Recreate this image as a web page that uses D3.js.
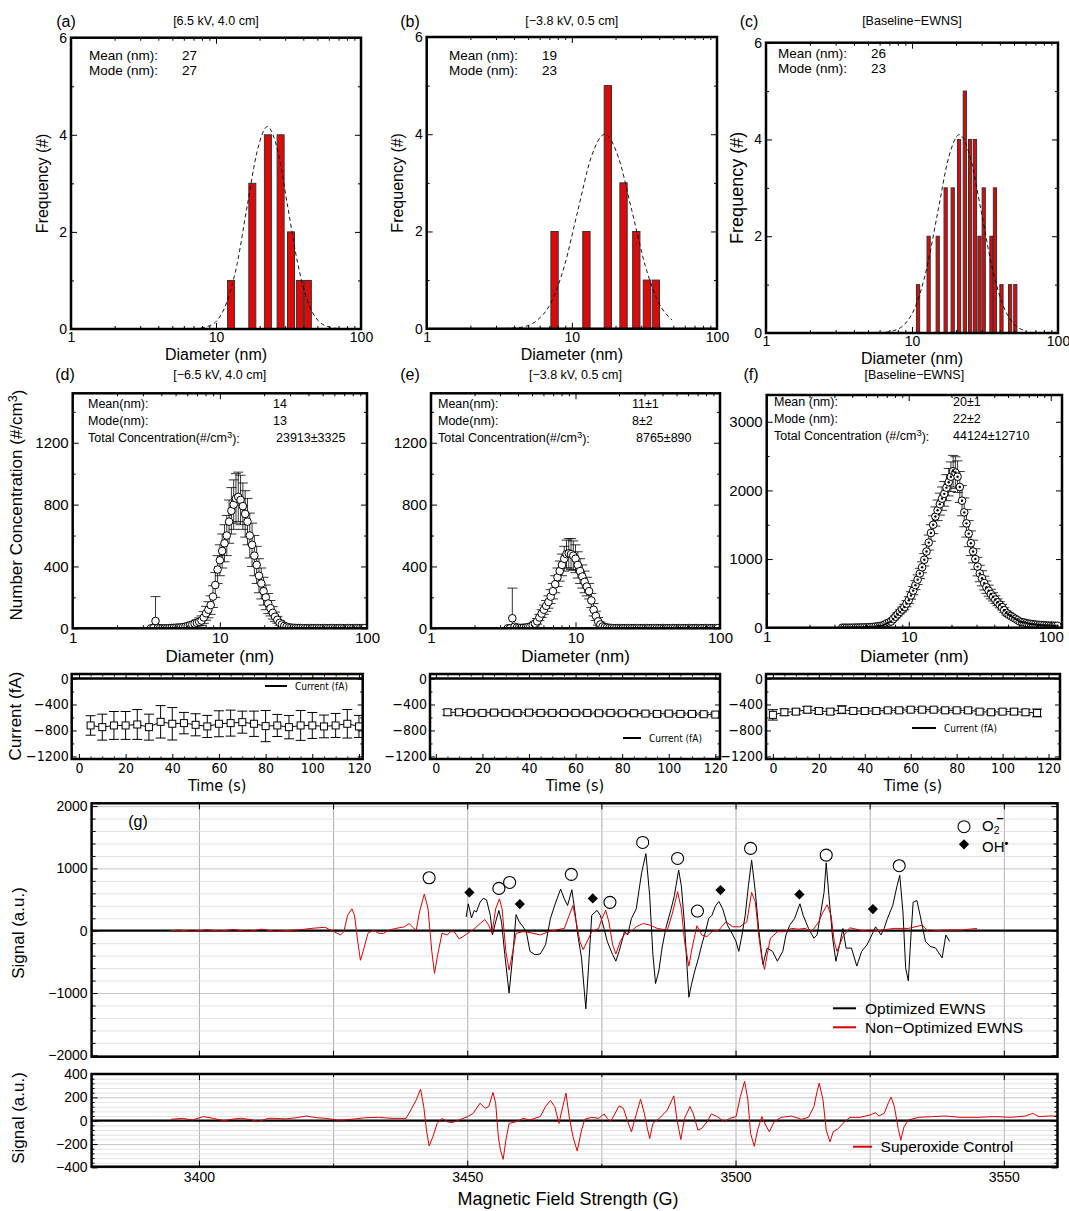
<!DOCTYPE html>
<html>
<head>
<meta charset="utf-8">
<script src="https://cdn.jsdelivr.net/npm/d3@7/dist/d3.min.js"></script>
<style>
  body { margin: 0; background: #fff; }
  svg { font-family: "Liberation Sans", Arial, sans-serif; }
</style>
</head>
<body>
<svg id="fig" width="1069" height="1211"></svg>
<script>
// ---- histograms (TEM counts) ----
const histA_d = [12.7, 17.8, 22.8, 27.9, 32.9, 37.9, 43.0];
const histA_n = [1, 3, 4, 4, 2, 1, 1];
const histB_d = [7.6, 12.6, 17.7, 22.7, 27.8, 32.9, 37.9];
const histB_n = [2, 2, 5, 3, 2, 1, 1];
const histC_d = [11, 13, 15, 17, 19, 21, 23, 25, 27, 29, 31, 35, 37, 41, 47, 51];
const histC_n = [1, 2, 2, 3, 3, 4, 5, 4, 4, 2, 3, 2, 3, 1, 1, 1];

// dashed log-normal fit curves
const fitA_d = [6.3, 7.4, 8.7, 10.2, 11.9, 14.0, 16.4, 19.3, 22.6, 26.6, 31.2, 36.6, 43.0, 50.4, 59.2, 69.5, 81.5, 95.5];
const fitA_f = [0, 0.01, 0.05, 0.18, 0.56, 1.35, 2.53, 3.68, 4.17, 3.68, 2.53, 1.35, 0.56, 0.18, 0.05, 0.01, 0, 0];
const fitB_d = [3.1, 3.8, 4.7, 5.8, 7.2, 8.9, 11.0, 13.6, 16.9, 20.9, 25.9, 32.0, 39.6, 49.0];
const fitB_f = [0, 0.01, 0.04, 0.18, 0.54, 1.30, 2.43, 3.53, 4.0, 3.53, 2.43, 1.30, 0.54, 0.18];
const fitC_d = [5.3, 6.3, 7.5, 8.9, 10.6, 12.6, 15.0, 17.8, 21.1, 25.1, 29.9, 35.5, 42.2, 50.1, 59.6];
const fitC_f = [0, 0.01, 0.05, 0.18, 0.56, 1.33, 2.49, 3.62, 4.1, 3.62, 2.49, 1.33, 0.56, 0.18, 0.05];

// ---- SMPS size distributions (channel mid-points, nm) ----
const diamGrid = [3.400, 3.525, 3.654, 3.788, 3.926, 4.070, 4.219, 4.374, 4.534, 4.700,
  4.872, 5.051, 5.236, 5.428, 5.626, 5.833, 6.046, 6.268, 6.497, 6.735,
  6.982, 7.238, 7.503, 7.778, 8.063, 8.358, 8.664, 8.982, 9.311, 9.652,
  10.005, 10.372, 10.752, 11.146, 11.554, 11.977, 12.416, 12.871, 13.342, 13.831,
  14.338, 14.863, 15.407, 15.971, 16.557, 17.163, 17.792, 18.444, 19.120, 19.820,
  20.546, 21.299, 22.079, 22.888, 23.726, 24.596, 25.496, 26.431, 27.399, 28.402,
  29.443, 30.521, 31.639, 32.798, 34.000, 35.245, 36.537, 37.875, 39.263, 40.701,
  42.193, 43.738, 45.340, 47.001, 48.723, 50.508, 52.358, 54.276, 56.264, 58.325,
  60.462, 62.677, 64.972, 67.352, 69.820, 72.377, 75.029, 77.777, 80.627, 83.580,
  86.642, 89.816, 93.107, 96.517, 100.05, 103.72, 107.52, 111.46];

const concD = [0, 0, 47, 2, 1, 0, 0, 0, 1, 2,
  3, 4, 5, 6, 8, 11, 15, 20, 25, 30,
  35, 42, 50, 70, 97, 120, 150, 205, 280, 380,
  440, 500, 550, 600, 690, 760, 800, 840, 850, 830,
  790, 740, 690, 600, 540, 470, 410, 340, 290, 240,
  200, 160, 130, 100, 75, 55, 35, 25, 15, 10,
  6, 4, 3, 2, 2, 2, 1, 1, 1, 1,
  1, 1, 1, 1, 1, 1, 1, 1, 1, 1,
  1, 1, 1, 1, 1, 1, 1, 1, 1, 1,
  1, 1, 1, 1];
const errD = [0, 0, 158, 2, 1, 0, 0, 0, 1, 1,
  2, 2, 3, 3, 5, 6, 8, 10, 12, 14,
  20, 25, 30, 38, 45, 52, 60, 70, 80, 90,
  100, 110, 120, 130, 140, 150, 160, 160, 160, 160,
  150, 150, 150, 145, 140, 130, 120, 110, 100, 90,
  80, 65, 50, 40, 30, 22, 15, 10, 8, 5,
  4, 3, 2, 2, 1, 1, 1, 1, 1, 1,
  1, 1, 1, 1, 1, 1, 1, 1, 1, 1,
  1, 1, 1, 1, 1, 1, 1, 1, 1, 1,
  1, 1, 1, 1];
const concE = [0, 0, 65, 10, 5, 3, 3, 4, 5, 8,
  12, 20, 30, 45, 70, 95, 120, 145, 170, 205,
  240, 285, 330, 370, 410, 450, 480, 485, 480, 470,
  450, 410, 370, 335, 300, 270, 240, 180, 120, 80,
  45, 25, 12, 8, 5, 3, 2, 1, 1, 1,
  1, 1, 1, 1, 1, 1, 1, 1, 1, 1,
  1, 1, 1, 1, 1, 1, 1, 1, 1, 1,
  1, 1, 1, 1, 1, 1, 1, 1, 1, 1,
  1, 1, 1, 1, 1, 1, 1, 1, 1, 1,
  1, 1, 1, 1];
const errE = [0, 0, 195, 5, 2, 2, 2, 2, 3, 4,
  5, 8, 15, 18, 20, 25, 30, 35, 40, 45,
  50, 55, 60, 65, 70, 80, 90, 95, 100, 95,
  90, 85, 80, 75, 70, 60, 50, 45, 40, 30,
  25, 15, 10, 6, 3, 2, 2, 1, 1, 1,
  1, 1, 1, 1, 1, 1, 1, 1, 1, 1,
  1, 1, 1, 1, 1, 1, 1, 1, 1, 1,
  1, 1, 1, 1, 1, 1, 1, 1, 1, 1,
  1, 1, 1, 1, 1, 1, 1, 1, 1, 1,
  1, 1, 1, 1];
const concF = [0, 0, 0, 0, 0, 1, 2, 2, 3, 4,
  5, 6, 8, 10, 12, 16, 20, 25, 30, 45,
  63, 75, 90, 125, 160, 195, 230, 265, 300, 350,
  400, 470, 540, 620, 700, 790, 880, 990, 1110, 1240,
  1380, 1500, 1620, 1710, 1800, 1880, 1950, 2040, 2120, 2200,
  2280, 2260, 2200, 2050, 1850, 1680, 1520, 1370, 1230, 1110,
  1000, 890, 790, 720, 650, 590, 540, 490, 450, 410,
  370, 335, 300, 255, 215, 190, 170, 150, 130, 110,
  90, 82, 75, 68, 60, 55, 50, 46, 42, 40,
  38, 35, 33, 31, 30, 29, 28, 28];
const errF = [2, 2, 2, 2, 2, 2, 3, 3, 3, 3,
  4, 4, 5, 5, 6, 7, 8, 9, 10, 11,
  12, 14, 15, 18, 20, 25, 30, 35, 40, 45,
  50, 55, 60, 65, 70, 75, 80, 90, 100, 110,
  120, 130, 140, 150, 160, 170, 180, 190, 200, 215,
  230, 230, 230, 225, 220, 210, 200, 190, 180, 165,
  150, 135, 120, 110, 100, 90, 80, 70, 60, 55,
  50, 45, 40, 35, 30, 28, 25, 22, 20, 18,
  15, 14, 12, 11, 10, 9, 8, 7, 6, 5,
  5, 4, 4, 3, 3, 3, 3, 3];

// ---- electrometer current ----
const timeD = [5, 10, 15, 20, 25, 30, 35, 40, 45, 50, 55, 60, 65, 70, 75, 80, 85, 90, 95, 100, 105, 110, 115, 120];
const curD = [-723, -749, -723, -723, -708, -749, -667, -697, -687, -713, -738, -697, -687, -672, -697, -733, -723, -749, -723, -723, -738, -723, -697, -738];
const curErrD = [150, 200, 215, 215, 230, 200, 250, 250, 165, 170, 170, 200, 200, 170, 195, 240, 170, 180, 230, 200, 175, 185, 220, 170];
const timeE = [5, 10, 15, 20, 25, 30, 35, 40, 45, 50, 55, 60, 65, 70, 75, 80, 85, 90, 95, 100, 105, 110, 115, 120];
const curE = [-520, -520, -530, -530, -525, -530, -530, -525, -530, -530, -530, -530, -530, -535, -530, -535, -535, -540, -545, -540, -545, -545, -550, -555];
const curErrE = [45, 40, 30, 30, 25, 30, 25, 30, 25, 25, 25, 25, 25, 25, 25, 25, 25, 25, 30, 25, 25, 25, 25, 25];
const timeF = [0, 5, 10, 15, 20, 25, 30, 35, 40, 45, 50, 55, 60, 65, 70, 75, 80, 85, 90, 95, 100, 105, 110, 115];
const curF = [-560, -520, -510, -480, -500, -510, -480, -500, -500, -500, -490, -490, -480, -480, -480, -490, -490, -490, -510, -520, -510, -510, -520, -530];
const curErrF = [80, 50, 40, 50, 40, 40, 60, 40, 35, 35, 30, 30, 30, 30, 30, 30, 30, 35, 35, 30, 35, 40, 40, 60];

// ---- EPR spectra ----
const nonOptField = [3394.8, 3396.3, 3398.8, 3401.4, 3404.0, 3406.5, 3409.1, 3411.7, 3414.2, 3416.8, 3419.3, 3421.3, 3423.5, 3424.8,
  3426.4, 3427.0, 3427.7, 3428.5, 3429.0, 3429.6, 3430.1, 3430.6, 3431.5, 3432.5, 3433.5, 3434.4, 3435.4, 3436.7, 3438.3,
  3439.2, 3439.9, 3440.5, 3441.1, 3442.0, 3442.7, 3443.4, 3443.9, 3444.5, 3445.3, 3446.3, 3446.9, 3447.6, 3448.5, 3449.2,
  3450.1, 3451.4, 3452.4, 3453.3, 3454.0, 3454.6, 3455.3, 3456.0, 3456.5, 3457.2, 3457.8, 3458.5, 3459.1, 3460.4, 3461.7,
  3463.6, 3465.5, 3468.1, 3469.0, 3469.7, 3470.3, 3471.0, 3471.6, 3472.2, 3473.2, 3474.5, 3475.1, 3475.8, 3476.4, 3477.1,
  3477.7, 3478.5, 3479.3, 3480.3, 3481.5, 3482.8, 3484.1, 3485.4, 3487.3, 3488.3, 3489.2, 3489.9, 3490.5, 3491.3, 3491.9,
  3492.8, 3493.7, 3494.7, 3495.6, 3496.9, 3498.2, 3499.5, 3500.8, 3502.1, 3503.0, 3503.7, 3504.3, 3504.9, 3505.4, 3505.9,
  3506.5, 3507.8, 3509.1, 3510.4, 3511.7, 3513.0, 3514.2, 3515.5, 3516.3, 3517.1, 3517.8, 3518.4, 3518.9, 3519.4, 3520.0,
  3521.3, 3523.2, 3525.1, 3527.1, 3529.6, 3532.2, 3534.8, 3536.0, 3538.6, 3541.8, 3545.0];
const nonOptSignal = [0, 10, -10, 15, -5, 20, -15, 25, -10, 5, 20, 40, 55, 0,
  -68, -16, 247, 352, 247, -174, -474, -332, -42, 10, -42, -42, 10, 37, 63,
  116, 50, 10, 300, 589, 352, -332, -684, -384, -42, -68, -16, -16, -132, -95,
  -42, 37, 116, 179, 90, -42, 352, 510, 352, -332, -632, -332, -42, -16, -30,
  -68, -5, 37, 247, 405, 142, -174, -305, -200, -16, 37, 195, 326, 142, -226,
  -374, -174, -58, -26, 63, 116, 89, 37, 10, 300, 626, 352, -174, -568, -279,
  79, -68, -95, -16, 10, 142, 63, 63, 142, 616, 458, -68, -437, -621, -384,
  -121, -16, -16, 37, 26, 37, -16, 142, 300, 416, 247, -174, -332, -226, -95,
  47, 10, -16, 10, 37, 37, 89, -16, 10, 10, 37];

const optField = [3449.8, 3450.2, 3450.8, 3451.3, 3451.7, 3452.4, 3453.0, 3453.6, 3454.3, 3454.7, 3455.3, 3455.9, 3456.4,
  3457.0, 3457.8, 3458.5, 3459.1, 3459.7, 3460.4, 3461.0, 3461.7, 3462.6, 3463.6, 3464.6, 3465.5, 3466.5, 3467.4, 3468.1,
  3468.7, 3469.5, 3470.0, 3470.6, 3471.3, 3472.1, 3472.6, 3473.2, 3474.2, 3474.8, 3475.5, 3476.1, 3477.1, 3477.7, 3478.3,
  3479.3, 3479.9, 3480.6, 3481.5, 3482.5, 3483.3, 3484.0, 3484.6, 3485.1, 3485.7, 3486.3, 3487.0, 3488.0, 3488.6, 3489.4,
  3489.9, 3490.5, 3491.3, 3491.8, 3492.4, 3493.1, 3493.7, 3494.4, 3495.0, 3495.6, 3496.3, 3496.9, 3497.6, 3498.5, 3499.5,
  3500.1, 3500.6, 3501.1, 3501.8, 3502.4, 3503.0, 3503.7, 3504.3, 3505.1, 3505.9, 3506.9, 3507.8, 3508.8, 3509.4, 3510.1,
  3511.0, 3512.0, 3512.6, 3513.6, 3514.6, 3515.2, 3515.8, 3516.5, 3516.9, 3517.4, 3518.1, 3518.7, 3519.4, 3520.0, 3520.6,
  3521.6, 3522.6, 3523.5, 3524.5, 3525.4, 3526.1, 3527.1, 3527.7, 3528.3, 3529.3, 3530.1, 3530.6, 3531.2, 3531.7, 3532.2,
  3532.7, 3533.1, 3533.8, 3534.4, 3535.4, 3536.3, 3537.3, 3538.5, 3539.2, 3539.9];
const optSignal = [221, 432, 205, 326, 300, 458, 521, 495, 247, -68, 142, 326, 142,
  -384, -1000, -384, 258, 142, 63, -16, -332, -384, -374, -226, 195, 458, 668, 510,
  405, 658, 352, -68, -437, -1253, -595, 247, 326, 247, 37, -174, -384, -489, -332,
  -16, -68, 195, 352, 932, 1237, 563, -384, -847, -647, -279, 37, 352, 563, 974,
  721, 89, -1068, -858, -647, -437, -226, -16, 195, 247, 405, 468, 352, 89, -68,
  -174, -332, -121, 247, 721, 1132, 616, 37, -542, -279, -332, -489, -332, -68, 89,
  195, 432, 247, 37, -121, -68, 247, 616, 1090, 563, -121, -489, -226, 37, -279,
  -279, -568, -332, -226, -68, 63, -68, 37, 195, 405, 721, 889, 300, -595, -805,
  -68, 458, 484, 247, -174, -253, -279, -437, -68, -174];

const supField = [3394.8, 3396.9, 3398.8, 3400.8, 3402.7, 3404.6, 3406.5, 3407.8, 3409.7, 3411.0, 3412.9, 3414.2, 3416.1,
  3418.1, 3420.0, 3421.9, 3423.8, 3425.8, 3427.0, 3429.0, 3430.9, 3433.5, 3436.0, 3438.6, 3439.5, 3440.5, 3441.3, 3441.9,
  3442.4, 3442.9, 3443.6, 3444.4, 3445.3, 3446.3, 3447.2, 3448.8, 3450.1, 3451.1, 3452.4, 3453.3, 3454.0, 3454.8, 3455.3,
  3455.8, 3456.2, 3456.7, 3457.2, 3457.8, 3459.1, 3460.4, 3461.7, 3463.6, 3464.6, 3465.5, 3466.3, 3467.1, 3467.8, 3468.4,
  3469.0, 3469.7, 3470.5, 3471.3, 3471.9, 3473.2, 3474.5, 3475.5, 3476.1, 3476.7, 3477.4, 3478.3, 3479.1, 3479.8, 3480.6,
  3481.2, 3482.3, 3483.0, 3483.5, 3484.0, 3484.6, 3486.0, 3487.3, 3488.5, 3489.1, 3489.8, 3490.5, 3491.5, 3492.1, 3493.0,
  3493.7, 3494.7, 3495.5, 3496.6, 3497.9, 3498.9, 3500.1, 3500.9, 3501.7, 3502.3, 3502.8, 3503.5, 3504.1, 3504.9, 3505.6,
  3506.3, 3507.2, 3508.5, 3510.4, 3512.3, 3513.6, 3514.6, 3515.2, 3515.6, 3516.3, 3516.9, 3517.6, 3518.2, 3519.2, 3520.0,
  3521.3, 3523.2, 3525.1, 3526.1, 3526.7, 3527.7, 3528.5, 3529.0, 3529.6, 3530.3, 3530.8, 3531.4, 3532.2, 3534.1, 3536.7,
  3539.2, 3541.8, 3545.0, 3548.2, 3551.4, 3554.0, 3555.4, 3556.5, 3558.5, 3560.0];
const supSignal = [12, 20, 6, 35, 20, 0, 15, 20, 10, -9, 20, 20, 15,
  25, 40, 25, 20, 5, 6, 15, 25, 29, 20, 20, 92, 178, 270, 120,
  -80, -216, -138, -23, 20, -9, -17, 12, 35, 63, 150, 106, 120, 242, 150,
  -138, -253, -331, -167, -23, -9, 20, 6, 35, 121, 173, 121, -23, 121, 236,
  35, -138, -259, -81, 12, 29, 20, 58, 20, -9, 49, 127, 106, 6, -95,
  6, 184, 63, -52, -153, -23, 29, 92, 213, 6, -161, 20, 121, 63, -81,
  -66, -9, 58, 35, -9, 20, 35, 207, 337, 178, -109, -219, -81, 35, -37,
  -95, -9, 29, 40, 12, 29, 121, 250, 322, 178, -81, -181, -95, -66, -23,
  29, 29, 49, 69, 40, 63, 155, 202, 121, -66, -167, -52, 6, 29, 35,
  40, 29, 29, 35, 29, 40, 63, 35, 40, 40];

const o2Field = [3442.9, 3455.9, 3457.9, 3469.4, 3476.6, 3482.7, 3489.2, 3492.9, 3502.8, 3516.9, 3530.5];
const o2Signal = [850, 679, 775, 904, 455, 1417, 1160, 316, 1321, 1214, 1043];
const ohField = [3450.4, 3459.8, 3473.4, 3497.2, 3511.9, 3525.6];
const ohSignal = [615, 428, 519, 652, 583, 348];

// -------------------------------------------------------------------
const svg = d3.select('#fig');
svg.append('rect').attr('width', 1069).attr('height', 1211).attr('fill', '#fff');

const NARROW = '"Liberation Sans Narrow", "DejaVu Sans Condensed", sans-serif';
let clipId = 0;

function text(x, y, s, o = {}) {
  const t = svg.append('text')
    .attr('x', x).attr('y', y)
    .attr('font-size', o.fs || 14)
    .attr('text-anchor', o.anchor || 'start')
    .text(s);
  if (o.rotate) t.attr('transform', `rotate(-90,${x},${y})`);
  if (o.family) t.attr('font-family', o.family);
  return t;
}

function sup(t, base, exp, rest) {
  t.text(null);
  t.append('tspan').text(base);
  t.append('tspan').attr('dy', '-0.4em').attr('font-size', '0.75em').text(exp);
  t.append('tspan').attr('dy', '0.4em').text(rest);
  return t;
}

function clip(x, y) {
  const id = 'c' + (clipId++);
  const [x0, x1] = x.range(), [y0, y1] = y.range();
  svg.append('clipPath').attr('id', id)
    .append('rect').attr('x', x0).attr('y', y1).attr('width', x1 - x0).attr('height', y0 - y1);
  return svg.append('g').attr('clip-path', `url(#${id})`);
}

function boxAxes(x, y, o) {
  const [xl, xr] = x.range(), [yb, yt] = y.range();
  const g = svg.append('g');
  const L = o.tick || 6, l = o.minor || 3;
  const add = (axis, tx, ty, vals, len, fmt, pad) => {
    const a = g.append('g').attr('transform', `translate(${tx},${ty})`)
      .call(axis.tickValues(vals).tickSize(-len).tickPadding(pad || 4).tickFormat(fmt || ''));
    a.select('.domain').remove();
    a.attr('font-family', o.family || null).attr('font-size', o.fs || 14);
    a.selectAll('line').attr('stroke', '#000').attr('stroke-width', 1);
    a.selectAll('text').attr('fill', '#000');
  };
  add(d3.axisBottom(x), 0, yb, o.xMajor, L, o.xFmt, o.xPad);
  add(d3.axisBottom(x), 0, yb, o.xMinor || [], l);
  add(d3.axisTop(x), 0, yt, o.xMajor, L);
  add(d3.axisTop(x), 0, yt, o.xMinor || [], l);
  add(d3.axisLeft(y), xl, 0, o.yMajor, L, o.yFmt, o.yPad);
  add(d3.axisLeft(y), xl, 0, o.yMinor || [], l);
  add(d3.axisRight(y), xr, 0, o.yMajor, L);
  add(d3.axisRight(y), xr, 0, o.yMinor || [], l);
  g.append('rect').attr('x', xl).attr('y', yt).attr('width', xr - xl).attr('height', yb - yt)
    .attr('fill', 'none').attr('stroke', '#000').attr('stroke-width', 2.5);
}

const logMinor = [2, 3, 4, 5, 6, 7, 8, 9, 20, 30, 40, 50, 60, 70, 80, 90];
const fmtD = d3.format('d');

// ---- row 1: histograms ----
const histPanels = [
  { lab: '(a)', labX: 66, title: '[6.5 kV, 4.0 cm]', d: histA_d, n: histA_n, fd: fitA_d, ff: fitA_f,
    x: [71, 361], y: [329, 37.7], bw: 7, stats: ['27', '27'], sx: 89, vx: 182, sy: 60, ytx: 48, yfs: 16 },
  { lab: '(b)', labX: 410, title: '[\u22123.8 kV, 0.5 cm]', d: histB_d, n: histB_n, fd: fitB_d, ff: fitB_f,
    x: [426.7, 717], y: [328.7, 37], bw: 7.3, stats: ['19', '23'], sx: 449, vx: 542, sy: 60, ytx: 403, yfs: 16 },
  { lab: '(c)', labX: 749, title: '[Baseline\u2212EWNS]', d: histC_d, n: histC_n, fd: fitC_d, ff: fitC_f,
    x: [766, 1058], y: [333, 42.7], bw: 3.2, stats: ['26', '23'], sx: 778, vx: 871, sy: 58, ytx: 743, yfs: 18 }
];

histPanels.forEach((p) => {
  const x = d3.scaleLog().domain([1, 100]).range(p.x);
  const y = d3.scaleLinear().domain([0, 6]).range(p.y);
  const g = clip(x, y);

  g.selectAll('.bar').data(p.d).enter().append('rect')
    .attr('x', (d) => x(d) - p.bw / 2)
    .attr('y', (d, i) => y(p.n[i]))
    .attr('width', p.bw)
    .attr('height', (d, i) => y(0) - y(p.n[i]))
    .attr('fill', '#dd0a0a').attr('stroke', '#333').attr('stroke-width', 1);

  const line = d3.line().x((d) => x(d)).y((d, i) => y(p.ff[i])).curve(d3.curveMonotoneX);
  g.append('path').attr('d', line(p.fd)).attr('fill', 'none')
    .attr('stroke', '#000').attr('stroke-width', 0.9).attr('stroke-dasharray', '4,3');

  boxAxes(x, y, { xMajor: [1, 10, 100], xMinor: logMinor, xFmt: fmtD, yMajor: [0, 2, 4, 6], yMinor: [1, 3, 5],
    yFmt: fmtD, fs: 14, xPad: 3 });

  text(p.labX, 27, p.lab, { fs: 16, anchor: 'middle' });
  text((p.x[0] + p.x[1]) / 2, 25, p.title, { fs: 12.5, anchor: 'middle' });
  text(p.sx, p.sy, 'Mean (nm):', { fs: 13.5 });
  text(p.vx, p.sy, p.stats[0], { fs: 13.5 });
  text(p.sx, p.sy + 14.5, 'Mode (nm):', { fs: 13.5 });
  text(p.vx, p.sy + 14.5, p.stats[1], { fs: 13.5 });
  text(p.ytx, (p.y[0] + p.y[1]) / 2, 'Frequency (#)', { fs: p.yfs, anchor: 'middle', rotate: true });
  text((p.x[0] + p.x[1]) / 2, p.y[0] + 31, 'Diameter (nm)', { fs: 16, anchor: 'middle' });
});

// ---- row 2: size distributions ----
const distPanels = [
  { lab: '(d)', labX: 65, title: '[\u22126.5 kV, 4.0 cm]', v: concD, e: errD, x: [72.7, 367], xmax: 100,
    y: [628.3, 393.3], ymax: 1520, yMajor: [0, 400, 800, 1200], yMinor: [200, 600, 1000, 1400], dot: false,
    sx: 88, vx: 273, tx: 276, sy: 408, names: ['Mean(nm):', 'Mode(nm):', 'Total Concentration(#/cm'],
    vals: ['14', '13', '23913\u00b13325'] },
  { lab: '(e)', labX: 410, title: '[\u22123.8 kV, 0.5 cm]', v: concE, e: errE, x: [431, 720], xmax: 100,
    y: [628.3, 393.3], ymax: 1520, yMajor: [0, 400, 800, 1200], yMinor: [200, 600, 1000, 1400], dot: false,
    sx: 438, vx: 632, tx: 636, sy: 408, names: ['Mean(nm):', 'Mode(nm):', 'Total Concentration(#/cm'],
    vals: ['11\u00b11', '8\u00b12', '8765\u00b1890'] },
  { lab: '(f)', labX: 751, title: '[Baseline\u2212EWNS]', v: concF, e: errF, x: [766.7, 1062], xmax: 120,
    y: [627.7, 395], ymax: 3390, yMajor: [0, 1000, 2000, 3000], yMinor: [500, 1500, 2500], dot: true,
    sx: 774, vx: 953, tx: 953, sy: 406, names: ['Mean (nm):', 'Mode (nm):', 'Total Concentration (#/cm'],
    vals: ['20\u00b11', '22\u00b12', '44124\u00b112710'] }
];

distPanels.forEach((p) => {
  const x = d3.scaleLog().domain([1, p.xmax]).range(p.x);
  const y = d3.scaleLinear().domain([0, p.ymax]).range(p.y);
  const g = clip(x, y);
  const pts = p.v.map((v, i) => ({ d: diamGrid[i], v: v, e: p.e[i] }));

  const eb = g.append('g').attr('stroke', '#000').attr('stroke-width', 0.8);
  pts.filter((d) => d.e >= 10).forEach((d) => {
    const cx = x(d.d), lo = y(Math.max(d.v - d.e, -100)), hi = y(d.v + d.e);
    eb.append('line').attr('x1', cx).attr('x2', cx).attr('y1', lo).attr('y2', hi);
    eb.append('line').attr('x1', cx - 5).attr('x2', cx + 5).attr('y1', hi).attr('y2', hi);
    if (d.v - d.e > 0) eb.append('line').attr('x1', cx - 5).attr('x2', cx + 5).attr('y1', lo).attr('y2', lo);
  });

  g.selectAll('.pt').data(pts).enter().append('circle')
    .attr('cx', (d) => x(d.d)).attr('cy', (d) => y(d.v)).attr('r', 3.8)
    .attr('fill', '#fff').attr('stroke', '#000').attr('stroke-width', 1);
  if (p.dot) {
    g.selectAll('.dot').data(pts).enter().append('circle')
      .attr('cx', (d) => x(d.d)).attr('cy', (d) => y(d.v)).attr('r', 1.2).attr('fill', '#000');
  }

  boxAxes(x, y, { xMajor: [1, 10, 100], xMinor: logMinor, xFmt: fmtD, yMajor: p.yMajor, yMinor: p.yMinor,
    yFmt: fmtD, fs: 15, xPad: 4 });

  text(p.labX, 380, p.lab, { fs: 16, anchor: 'middle' });
  text((p.x[0] + p.x[1]) / 2, 379, p.title, { fs: 12.5, anchor: 'middle' });
  p.names.forEach((s, i) => {
    const t = text(p.sx, p.sy + i * 17, s, { fs: 12.5 });
    if (i === 2) sup(t, s, '3', '):');
    text(i === 2 ? p.tx : p.vx, p.sy + i * 17, p.vals[i], { fs: 12.5 });
  });
  text((p.x[0] + p.x[1]) / 2, 662, 'Diameter (nm)', { fs: 17, anchor: 'middle' });
});

sup(text(22, 505, '', { fs: 17, anchor: 'middle', rotate: true }), 'Number Concentration (#/cm', '3', ')');

// ---- row 3: current ----
const curPanels = [
  { t: timeD, c: curD, e: curErrD, x: [71.7, 362.7], dom: [-3.1, 121.6], leg: [265, 287, 686] },
  { t: timeE, c: curE, e: curErrE, x: [430, 720], dom: [-2.5, 122], leg: [623, 641, 738] },
  { t: timeF, c: curF, e: curErrF, x: [766, 1060], dom: [-3, 125], leg: [912, 936, 728] }
];

curPanels.forEach((p) => {
  const x = d3.scaleLinear().domain(p.dom).range(p.x);
  const y = d3.scaleLinear().domain([-1240, 70]).range([759, 674]);
  const g = clip(x, y);

  g.append('line').attr('x1', p.x[0]).attr('x2', p.x[1]).attr('y1', y(0)).attr('y2', y(0))
    .attr('stroke', '#000').attr('stroke-width', 2.5);

  const eb = g.append('g').attr('stroke', '#000').attr('stroke-width', 1);
  p.t.forEach((t, i) => {
    const cx = x(t), lo = y(p.c[i] - p.e[i]), hi = y(p.c[i] + p.e[i]);
    eb.append('line').attr('x1', cx).attr('x2', cx).attr('y1', lo).attr('y2', hi);
    eb.append('line').attr('x1', cx - 5).attr('x2', cx + 5).attr('y1', lo).attr('y2', lo);
    eb.append('line').attr('x1', cx - 5).attr('x2', cx + 5).attr('y1', hi).attr('y2', hi);
  });
  const line = d3.line().x((d) => x(d)).y((d, i) => y(p.c[i]));
  g.append('path').attr('d', line(p.t)).attr('fill', 'none').attr('stroke', '#000').attr('stroke-width', 1);
  g.selectAll('.sq').data(p.t).enter().append('rect')
    .attr('x', (d) => x(d) - 3.5).attr('y', (d, i) => y(p.c[i]) - 3.5)
    .attr('width', 7).attr('height', 7)
    .attr('fill', '#fff').attr('stroke', '#000').attr('stroke-width', 1);

  boxAxes(x, y, { xMajor: [0, 20, 40, 60, 80, 100, 120], xMinor: d3.range(5, 125, 5).filter((d) => d % 20),
    xFmt: fmtD, yMajor: [0, -400, -800, -1200], yMinor: [-200, -600, -1000], yFmt: fmtD, fs: 14,
    family: NARROW, xPad: 4, yPad: 3, tick: 5, minor: 2.5 });

  svg.append('line').attr('x1', p.leg[0]).attr('x2', p.leg[1]).attr('y1', p.leg[2]).attr('y2', p.leg[2])
    .attr('stroke', '#000').attr('stroke-width', 2);
  text(p.leg[1] + 8, p.leg[2] + 3.5, 'Current (fA)', { fs: 10, family: NARROW });
  text((p.x[0] + p.x[1]) / 2, 791, 'Time (s)', { fs: 16, anchor: 'middle', family: NARROW });
});
text(21, 716, 'Current (fA)', { fs: 17, anchor: 'middle', rotate: true });

// ---- (g) EPR ----
const xg = d3.scaleLinear().domain([3380, 3560]).range([91.6, 1057.5]);
const yUp = d3.scaleLinear().domain([-2022, 2045]).range([1056.7, 803.3]);
const yLo = d3.scaleLinear().domain([-394, 400]).range([1166.7, 1074]);
const fieldTicks = [3400, 3425, 3450, 3475, 3500, 3525, 3550];

function eprGrid(y, minorVals, majorVals) {
  const [yb, yt] = y.range();
  const g = svg.append('g');
  g.append('g').attr('transform', `translate(0,${yb})`)
    .call(d3.axisBottom(xg).tickValues(fieldTicks).tickSize(-(yb - yt)).tickFormat(''))
    .call((a) => a.select('.domain').remove())
    .selectAll('line').attr('stroke', '#9a9a9a').attr('stroke-width', 0.8);
  g.append('g').attr('transform', `translate(${xg.range()[0]},0)`)
    .call(d3.axisLeft(y).tickValues(minorVals).tickSize(-(xg.range()[1] - xg.range()[0])).tickFormat(''))
    .call((a) => a.select('.domain').remove())
    .selectAll('line').attr('stroke', (d) => majorVals.includes(d) ? '#b8b8b8' : '#dcdcdc').attr('stroke-width', 0.8);
}

eprGrid(yUp, d3.range(-2000, 2001, 200).filter((d) => d !== 0), [-2000, -1000, 1000, 2000]);
eprGrid(yLo, d3.range(-400, 401, 40).filter((d) => d !== 0), [-400, -200, 200, 400]);

const gUp = clip(xg, yUp);
gUp.append('line').attr('x1', 91.6).attr('x2', 1057.5).attr('y1', yUp(0)).attr('y2', yUp(0))
  .attr('stroke', '#000').attr('stroke-width', 2.2);
const lineNon = d3.line().x((d) => xg(d)).y((d, i) => yUp(nonOptSignal[i]));
const lineOpt = d3.line().x((d) => xg(d)).y((d, i) => yUp(optSignal[i]));
gUp.append('path').attr('d', lineOpt(optField)).attr('fill', 'none').attr('stroke', '#000').attr('stroke-width', 1);
gUp.append('path').attr('d', lineNon(nonOptField)).attr('fill', 'none').attr('stroke', '#dd0000').attr('stroke-width', 1);

gUp.selectAll('.o2').data(o2Field).enter().append('circle')
  .attr('cx', (d) => xg(d)).attr('cy', (d, i) => yUp(o2Signal[i])).attr('r', 6)
  .attr('fill', '#fff').attr('stroke', '#000').attr('stroke-width', 1.1);
gUp.selectAll('.oh').data(ohField).enter().append('path')
  .attr('d', d3.symbol(d3.symbolSquare, 52)())
  .attr('transform', (d, i) => `translate(${xg(d)},${yUp(ohSignal[i])}) rotate(45)`)
  .attr('fill', '#000');

boxAxes(xg, yUp, { xMajor: fieldTicks, xMinor: [], yMajor: [-2000, -1000, 0, 1000, 2000],
  yMinor: d3.range(-1800, 1801, 200).filter((d) => d % 1000), yFmt: fmtD, fs: 14, tick: 6, minor: 4 });

const gLo = clip(xg, yLo);
gLo.append('line').attr('x1', 91.6).attr('x2', 1057.5).attr('y1', yLo(0)).attr('y2', yLo(0))
  .attr('stroke', '#000').attr('stroke-width', 2.2);
const lineSup = d3.line().x((d) => xg(d)).y((d, i) => yLo(supSignal[i]));
gLo.append('path').attr('d', lineSup(supField)).attr('fill', 'none').attr('stroke', '#dd0000').attr('stroke-width', 1);

boxAxes(xg, yLo, { xMajor: [3400, 3450, 3500, 3550], xMinor: [3425, 3475, 3525], xFmt: fmtD,
  yMajor: [-400, -200, 0, 200, 400], yMinor: d3.range(-360, 361, 40).filter((d) => d % 200), yFmt: fmtD,
  fs: 14, tick: 6, minor: 3, xPad: 5 });

// (g) annotations
text(138, 827, '(g)', { fs: 16, anchor: 'middle' });
svg.append('circle').attr('cx', 964).attr('cy', 826.7).attr('r', 6)
  .attr('fill', '#fff').attr('stroke', '#000').attr('stroke-width', 1.1);
const o2t = text(982, 831, '', { fs: 15 });
o2t.append('tspan').text('O');
o2t.append('tspan').attr('dy', 3).attr('font-size', 10.5).text('2');
o2t.append('tspan').attr('dy', -12).attr('dx', -3).attr('font-size', 13).attr('font-weight', 'bold').text('\u2013');
svg.append('path').attr('d', d3.symbol(d3.symbolSquare, 52)())
  .attr('transform', 'translate(964,844.3) rotate(45)').attr('fill', '#000');
const oht = text(982, 852, '', { fs: 15 });
oht.append('tspan').text('OH');
oht.append('tspan').attr('dy', -5).attr('font-size', 11).attr('font-weight', 'bold').text('\u2022');

svg.append('line').attr('x1', 833).attr('x2', 856).attr('y1', 1008.3).attr('y2', 1008.3).attr('stroke', '#000').attr('stroke-width', 2);
text(865, 1013.8, 'Optimized EWNS', { fs: 15.5 });
svg.append('line').attr('x1', 833).attr('x2', 856).attr('y1', 1027.3).attr('y2', 1027.3).attr('stroke', '#dd0000').attr('stroke-width', 2);
text(865, 1032.8, 'Non\u2212Optimized EWNS', { fs: 15.5 });
svg.append('line').attr('x1', 853).attr('x2', 872).attr('y1', 1146.7).attr('y2', 1146.7).attr('stroke', '#dd0000').attr('stroke-width', 2);
text(880.6, 1152.2, 'Superoxide Control', { fs: 15.5 });

text(24, 933, 'Signal (a.u.)', { fs: 17, anchor: 'middle', rotate: true });
text(24, 1118, 'Signal (a.u.)', { fs: 17, anchor: 'middle', rotate: true });
text(568, 1205, 'Magnetic Field Strength (G)', { fs: 18, anchor: 'middle' });
</script>
</body>
</html>
